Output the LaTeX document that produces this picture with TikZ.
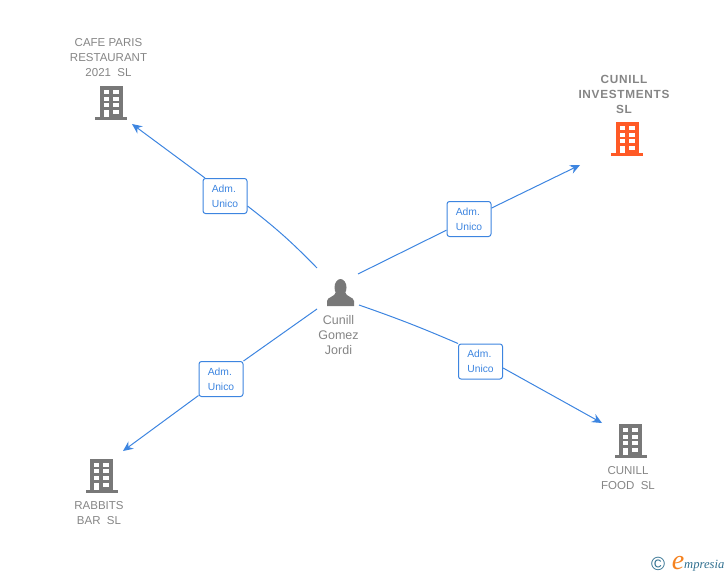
\documentclass[tikz,border=0pt]{standalone}
\usepackage{fontspec}
\setmainfont{Liberation Sans}
\newfontfamily\logofont{Liberation Serif}
\newfontfamily\spacedfont[LetterSpace=6]{Liberation Sans Bold}
\usepackage{tikz}
\usetikzlibrary{arrows.meta,positioning}
\definecolor{linkblue}{HTML}{3D85E0}
\definecolor{labelgrey}{HTML}{858585}
\definecolor{icongrey}{HTML}{787878}
\definecolor{iconorange}{HTML}{FF5A26}
\definecolor{logoteal}{HTML}{2F6F8F}
\definecolor{logoorange}{HTML}{F58220}
\tikzset{
  rolebox/.style={draw=linkblue,line width=1pt,rounded corners=2.5pt,fill=white,minimum width=44pt,minimum height=35pt,inner sep=0pt,align=left,text=linkblue,font=\fontsize{10.3}{15}\selectfont},
  namelabel/.style={align=center,text=labelgrey,inner sep=0pt,font=\fontsize{11.5}{15}\selectfont},
  linkline/.style={draw=linkblue,line width=1pt},
  linkarrow/.style={linkline,-{Stealth[length=10pt,width=9pt]}},
  pics/building/.style={code={
    \fill[#1] (-11.5,-17) rectangle (11.5,14);
    \fill[#1] (-16,14) rectangle (16,17);
    \foreach \wy in {-13,-6.3,0,7}{
      \fill[white] (-7.5,\wy) rectangle (-2.2,\wy+4.2);
      \fill[white] (1.8,\wy) rectangle (7.5,\wy+4.2);
    }
    \fill[white] (-7.5,7) rectangle (-2.2,14);
  }}
}
\begin{document}
\begin{tikzpicture}[x=1pt,y=-1pt]
\useasboundingbox (0,0) rectangle (728,575);
% buildings
\pic at (111,103) {building=icongrey};
\pic at (627,139) {building=iconorange};
\pic at (101.5,475.5) {building=icongrey};
\pic at (630.5,441) {building=icongrey};
% person
\fill[icongrey] (340.5,287.5) ellipse (6pt and 8.5pt);
\fill[icongrey] (327,306) -- (327,301) .. controls (327,297) and (335,297) .. (336,292) -- (345,292) .. controls (346,297) and (354,297) .. (354,301) -- (354,306) -- cycle;
% names
\node[namelabel] (cafe) at (108.5,57.5) {CAFE PARIS\\RESTAURANT\\2021\ \ SL};
\node[namelabel,font=\fontsize{11.8}{15}\spacedfont] (investments) at (624,94) {CUNILL\\INVESTMENTS\\SL};
\node[namelabel] (rabbits) at (99,513) {RABBITS\\BAR\ \ SL};
\node[namelabel] (food) at (628,478) {CUNILL\\FOOD\ \ SL};
\node[namelabel,font=\fontsize{12.5}{15}\selectfont] (jordi) at (338.5,335) {Cunill\\Gomez\\Jordi};
% ends of the links
\coordinate (fromcafe) at (317,268);
\coordinate (frominv) at (358,274);
\coordinate (fromrabbits) at (317,309);
\coordinate (fromfood) at (359,305);
\coordinate (tocafe) at (132,124);
\coordinate (toinv) at (580,165);
\coordinate (torabbits) at (123,451);
\coordinate (tofood) at (602,423);
% role boxes
\node[rolebox] (admcafe) at (225,196) {Adm.\\Unico};
\node[rolebox] (adminv) at (469,219) {Adm.\\Unico};
\node[rolebox] (admrabbits) at (221,379) {Adm.\\Unico};
\node[rolebox] (admfood) at (480.5,361.5) {Adm.\\Unico};
% links
\draw[linkline] (fromcafe) to[bend right=4] (admcafe.-24);
\draw[linkarrow] (admcafe.138) to (tocafe);
\draw[linkline] (frominv) to (adminv);
\draw[linkarrow] (adminv) to (toinv);
\draw[linkline] (fromrabbits) to (admrabbits.north east);
\draw[linkarrow] (admrabbits) to (torabbits);
\draw[linkline] (fromfood) to[bend left=2] (admfood.north west);
\draw[linkarrow] (admfood.-16) to (tofood);
% logo
\node[inner sep=0pt,text=logoteal,font=\fontsize{19}{19}\selectfont] (copyright) at (658,564) {©};
\node[inner sep=0pt,text=logoorange,font=\fontsize{28}{28}\logofont\itshape] (logoe) at (678,563) {e};
\node[inner sep=0pt,text=logoteal,anchor=base west,font=\fontsize{12.6}{15}\logofont\itshape] (logotext) at (684,568) {mpresia};
\end{tikzpicture}
\end{document}
